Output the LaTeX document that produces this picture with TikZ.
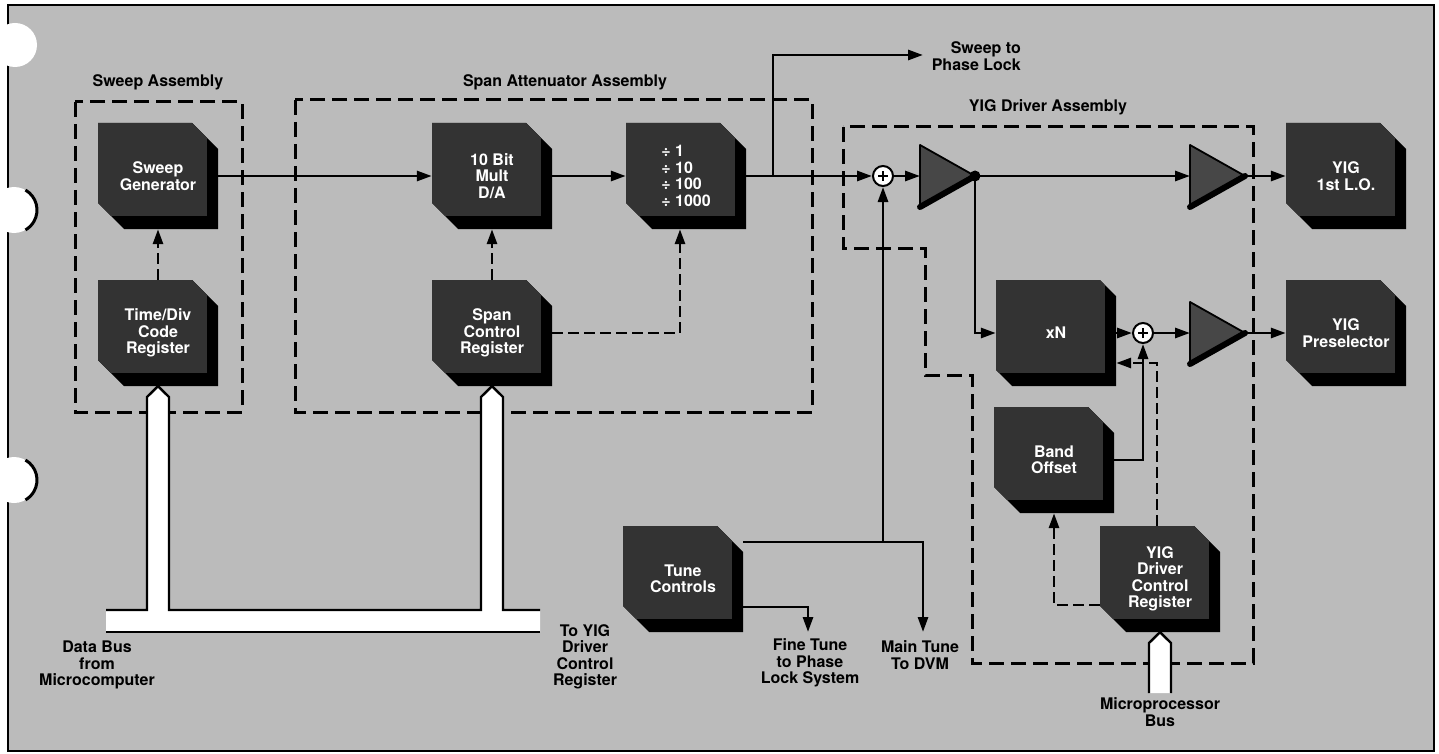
\documentclass[tikz,border=0pt]{standalone}
\usepackage{fontspec}
\setmainfont{TeX Gyre Heros}
\usetikzlibrary{arrows.meta,shapes.misc,calc}
\definecolor{bgc}{HTML}{BBBBBB}
\begin{document}
\begin{tikzpicture}[x=1pt,y=-1pt,
  box/.style={chamfered rectangle, chamfered rectangle corners={north east,south west},
    chamfered rectangle xsep=13pt, chamfered rectangle ysep=13pt,
    minimum width=120pt, minimum height=106pt, inner sep=0pt,
    fill=black, text=white, font=\bfseries\fontsize{16}{16.5}\selectfont, align=center,
    path picture={\fill[black!80] (path picture bounding box.north west) rectangle ([xshift=-11pt,yshift=13pt]path picture bounding box.south east);}},
  lbl/.style={font=\bfseries\fontsize{16}{16.5}\selectfont, align=center, text=black, inner sep=0pt},
  sig/.style={line width=2.8pt, -{Triangle[length=15pt,width=10pt]}},
  ctl/.style={line width=2.8pt, dash pattern=on 11pt off 5pt, -{Triangle[length=15pt,width=10pt]}},
  asm/.style={line width=3pt, dash pattern=on 15pt off 7pt},
  amp/.style={fill=black!72, draw=black, line width=1.8pt, line join=round},
  ampedge/.style={line width=6pt, line cap=round},
  sum/.style={circle, draw, fill=white, line width=2pt, minimum size=20pt, inner sep=0pt,
    path picture={\draw[line width=1.2pt] (path picture bounding box.center) ++(-5pt,0) -- ++(10pt,0);
                  \draw[line width=1.2pt] (path picture bounding box.center) ++(0,-5pt) -- ++(0,10pt);}},
  bus/.style={line width=2.4pt, line join=miter}
]
\useasboundingbox (0,0) rectangle (1439,754);
% background and frame
\fill[bgc] (8,5) rectangle (1434,751);
\draw[line width=2.5pt] (8,5) rectangle (1434,751);
% binder holes
\fill[white] (15,45) circle (22);
\fill[white] (14,210) circle (23);
\draw[line width=3pt] (14,210) ++(-60:23) arc[start angle=-60,end angle=60,radius=23];
\fill[white] (14,480) circle (23);
\draw[line width=3pt] (14,480) ++(-60:23) arc[start angle=-60,end angle=60,radius=23];

% assembly outlines
\draw[asm] (75,102) rectangle (242,412);
\draw[asm] (295,100) rectangle (812,412);
\draw[asm] (843,127) -- (843,248) -- (925,248) -- (925,375) -- (972,375) -- (972,663) -- (1253,663) -- (1253,127) -- cycle;

% assembly labels
\node[lbl] (lsa) at (158,82) {Sweep Assembly};
\node[lbl] (lspa) at (565,82) {Span Attenuator Assembly};
\node[lbl] (lyd) at (1048,107) {YIG Driver Assembly};

% blocks
\node[box] (sg) at (158,176) {Sweep\\Generator};
\node[box] (td) at (158,333) {Time/Div\\Code\\Register};
\node[box] (da) at (492,176) {10 Bit\\Mult\\D/A};
\node[box] (sc) at (492,333) {Span\\Control\\Register};
\node[box, align=left] (dv) at (686,176) {÷ 1\\÷ 10\\÷ 100\\÷ 1000};
\node[box] (lo) at (1346,176) {YIG\\1st L.O.};
\node[box] (xn) at (1056,333) {xN};
\node[box] (ps) at (1346,333) {YIG\\Preselector};
\node[box] (bo) at (1054,460) {Band\\Offset};
\node[box] (ydc) at (1160,579) {YIG\\Driver\\Control\\Register};
\node[box] (tc) at (683,579) {Tune\\Controls};

% summing junctions
\node[sum] (s1) at (883,176) {};
\node[sum] (s2) at (1143,333) {};

% amplifiers
\coordinate (a1in) at (920,176); \coordinate (a1out) at (975,176);
\coordinate (a2in) at (1190,176); \coordinate (a2out) at (1245,176);
\coordinate (a3in) at (1190,333); \coordinate (a3out) at (1245,333);
\draw[amp] (920,145) -- (a1out) -- (920,207) -- cycle;
\draw[ampedge] (920,207) -- (a1out);
\draw[amp] (1190,145) -- (a2out) -- (1190,207) -- cycle;
\draw[ampedge] (1190,207) -- (a2out);
\draw[amp] (1190,302) -- (a3out) -- (1190,364) -- cycle;
\draw[ampedge] (1190,364) -- (a3out);
\fill (a1out) circle (5.5);

% signal path
\coordinate (br) at (773,176);
\coordinate (spl) at (923,55);
\draw[sig] (sg.east) -- (da.west);
\draw[sig] (da.east) -- (dv.west);
\draw[sig] (dv.east) -- (s1.west);
\draw[sig] (br) |- (spl);
\draw[sig] (s1.east) -- (a1in);
\draw[sig] (a1out) -- (a2in);
\draw[sig] (a2out) -- (lo.west);
\draw[sig] (a1out) |- (xn.west);
\draw[sig] (xn.east) -- (s2.west);
\draw[sig] (s2.east) -- (a3in);
\draw[sig] (a3out) -- (ps.west);
\draw[sig] (bo.east) -| (s2.south);

% tune controls
\coordinate (tcA) at ($(tc.east)+(0,-37)$);
\coordinate (tcB) at ($(tc.east)+(0,28)$);
\coordinate (mt) at (923,632);
\coordinate (ft) at (808,632);
\draw[sig] (tcA) -| (mt);
\draw[sig] (s1 |- tcA) -- (s1.south);
\draw[sig] (tcB) -| (ft);

% control (dashed) paths
\coordinate (dvin) at ($(dv.south)+(-6,0)$);
\draw[ctl] (td.north) -- (sg.south);
\draw[ctl] (sc.north) -- (da.south);
\draw[ctl] (sc.east) -| (dvin);
\coordinate (ydA) at ($(ydc.north)+(-3,0)$);
\coordinate (xnB) at ($(xn.east)+(0,30)$);
\draw[ctl] (ydA) |- (xnB);
\coordinate (ydB) at ($(ydc.west)+(0,26)$);
\draw[ctl] (ydB) -| (bo.south);

% data bus
\fill[white] (106,610) -- (147,610) -- (147,397) -- (td.south) -- (169,397) -- (169,610) -- (481,610) -- (481,397) -- (sc.south) -- (503,397) -- (503,610) -- (540,610) -- (540,632) -- (106,632) -- cycle;
\draw[bus] (106,610) -- (147,610) -- (147,397) -- (td.south) -- (169,397) -- (169,610) -- (481,610) -- (481,397) -- (sc.south) -- (503,397) -- (503,610) -- (540,610);
\draw[bus] (106,632) -- (540,632);
% microprocessor bus
\fill[white] (1149,693) -- (1149,643) -- (ydc.south) -- (1171,643) -- (1171,693) -- cycle;
\draw[bus] (1149,693) -- (1149,643) -- (ydc.south) -- (1171,643) -- (1171,693);

% outside labels
\node[lbl, anchor=east, align=right] (lsp) at (1021,56) {Sweep to\\Phase Lock};
\node[lbl] (ldb) at (97,665) {Data Bus\\from\\Microcomputer};
\node[lbl] (lty) at (585,657) {To YIG\\Driver\\Control\\Register};
\node[lbl] (lft) at (810,663) {Fine Tune\\to Phase\\Lock System};
\node[lbl] (lmt) at (920,655) {Main Tune\\To DVM};
\node[lbl] (lmb) at (1160,712) {Microprocessor\\Bus};
\end{tikzpicture}
\end{document}
